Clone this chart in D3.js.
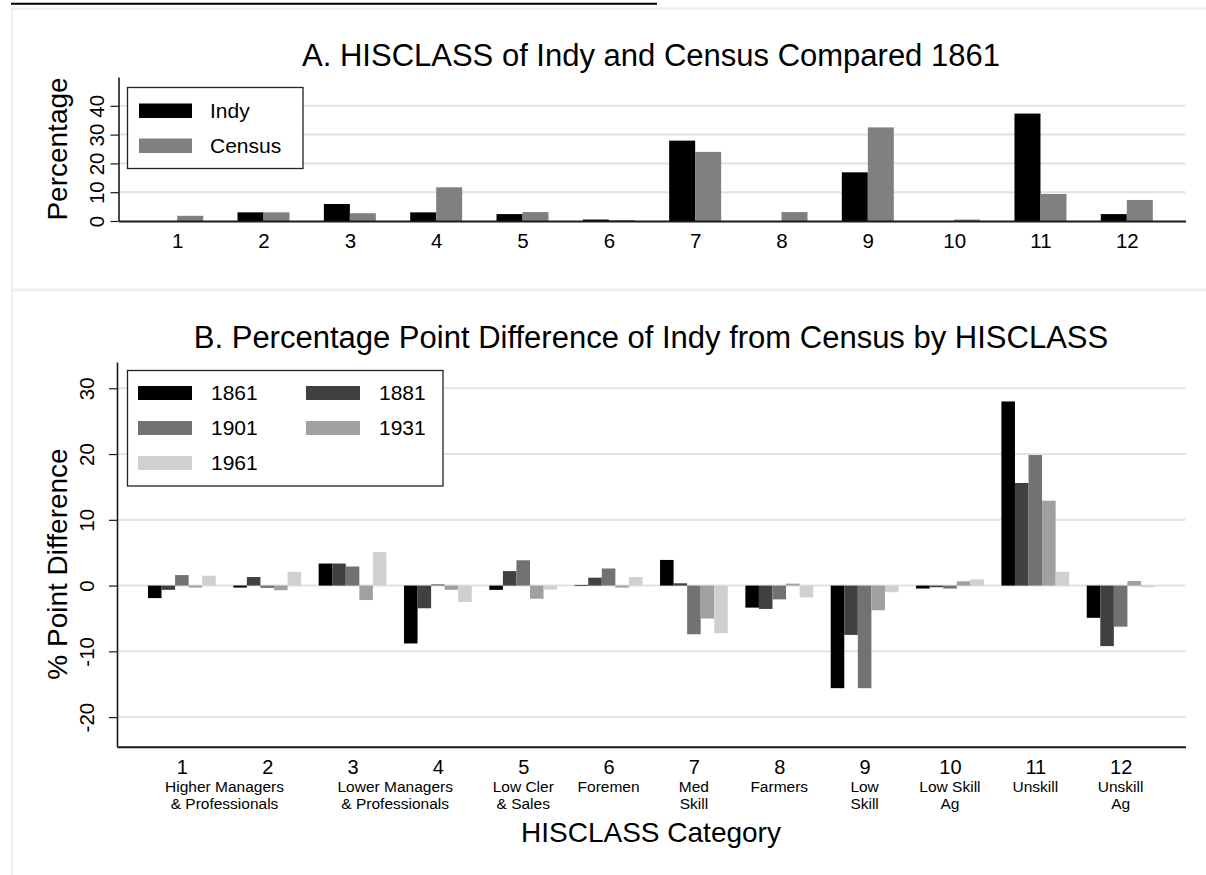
<!DOCTYPE html>
<html>
<head>
<meta charset="utf-8">
<script src="https://cdn.jsdelivr.net/npm/d3@7"></script>
<style>
  html, body { margin: 0; padding: 0; background: #ffffff; }
  svg { display: block; }
  text { font-family: "Liberation Sans", Arial, Helvetica, sans-serif; fill: #000; }
</style>
</head>
<body>
<svg id="chart" width="1206" height="875"></svg>
<script>
// ---------------- DATA ----------------
const categories = ["1","2","3","4","5","6","7","8","9","10","11","12"];

// Panel A: percentage by HISCLASS, 1861
const seriesA = ["Indy", "Census"];
const indyPct   = [0, 3.0, 5.9, 3.0, 2.4, 0.5, 27.9, 0, 16.9, 0, 37.3, 2.4];
const censusPct = [1.8, 3.0, 2.7, 11.7, 3.1, 0.3, 24.0, 3.1, 32.5, 0.5, 9.4, 7.3];
const ticksA = [0, 10, 20, 30, 40];

// Panel B: percentage point difference of Indy from Census
const years = ["1861", "1881", "1901", "1931", "1961"];
const diff1861 = [-1.9, -0.3, 3.35, -8.8, -0.65, 0.1, 3.9, -3.35, -15.6, -0.45, 28.0, -4.9];
const diff1881 = [-0.65, 1.3, 3.35, -3.45, 2.2, 1.2, 0.35, -3.55, -7.5, -0.25, 15.6, -9.2];
const diff1901 = [1.6, -0.35, 2.9, 0.2, 3.85, 2.6, -7.4, -2.1, -15.6, -0.45, 19.85, -6.25];
const diff1931 = [-0.3, -0.7, -2.2, -0.65, -2.0, -0.3, -5.0, 0.3, -3.75, 0.65, 12.9, 0.7];
const diff1961 = [1.5, 2.1, 5.1, -2.5, -0.6, 1.3, -7.25, -1.8, -1.0, 0.95, 2.1, -0.25];
const ticksB = [-20, -10, 0, 10, 20, 30];

// Descriptive category names (span = number of categories the name sits under)
const catNames = [
  ["Higher Managers", "& Professionals"], null,
  ["Lower Managers", "& Professionals"], null,
  ["Low Cler", "& Sales"], ["Foremen"], ["Med", "Skill"], ["Farmers"],
  ["Low", "Skill"], ["Low Skill", "Ag"], ["Unskill"], ["Unskill", "Ag"]
];
const catNameSpan = [2, 0, 2, 0, 1, 1, 1, 1, 1, 1, 1, 1];

const titleA = "A. HISCLASS of Indy and Census Compared 1861";
const titleB = "B. Percentage Point Difference of Indy from Census by HISCLASS";
const yTitleA = "Percentage";
const yTitleB = "% Point Difference";
const xTitleB = "HISCLASS Category";

// ---------------- STYLE ----------------
const colorsA = { Indy: "#000000", Census: "#808080" };
const colorsB = ["#000000", "#404040", "#727272", "#a0a0a0", "#d0d0d0"];
const gridColor = "#e2e2e2";
const axisColor = "#1a1a1a";
const frameColor = "#e9eff2";
const plainFmt = d => String(d); // ASCII hyphen for negatives, like the original

const svg = d3.select("#chart");

// Page frame / cut-off header remnants
svg.append("line").attr("x1", 11).attr("x2", 657).attr("y1", 3.8).attr("y2", 3.8)
  .attr("stroke", "#000").attr("stroke-width", 2);
svg.append("line").attr("x1", 11).attr("x2", 1206).attr("y1", 8.5).attr("y2", 8.5)
  .attr("stroke", frameColor).attr("stroke-width", 2);
svg.append("line").attr("x1", 12).attr("x2", 12).attr("y1", 8).attr("y2", 875)
  .attr("stroke", frameColor).attr("stroke-width", 2);
svg.append("line").attr("x1", 12).attr("x2", 1206).attr("y1", 290).attr("y2", 290)
  .attr("stroke", frameColor).attr("stroke-width", 3);

// ================= PANEL A =================
const A = { left: 118.5, right: 1185.5, top: 77, bottom: 221 };
const xA = d3.scalePoint().domain(categories).range([A.left, A.right]).padding(0.68);
const yA = d3.scaleLinear().domain([0, 50]).range([A.bottom, A.top]);
const xA1 = d3.scaleBand().domain(seriesA).range([-26, 26]).padding(0);

const gA = svg.append("g");
gA.append("g").selectAll("line").data(ticksA.filter(d => d !== 0)).join("line")
  .attr("x1", A.left).attr("x2", A.right)
  .attr("y1", d => yA(d)).attr("y2", d => yA(d))
  .attr("stroke", gridColor).attr("stroke-width", 2);

const dataA = categories.map((c, i) => ({ cat: c, Indy: indyPct[i], Census: censusPct[i] }));
gA.append("g").selectAll("g").data(dataA).join("g")
  .attr("transform", d => `translate(${xA(d.cat)},0)`)
  .selectAll("rect").data(d => seriesA.map(s => ({ s, v: d[s] }))).join("rect")
  .attr("x", d => xA1(d.s)).attr("width", xA1.bandwidth())
  .attr("y", d => yA(d.v)).attr("height", d => yA(0) - yA(d.v))
  .attr("fill", d => colorsA[d.s]);

const yAxisA = gA.append("g").attr("transform", `translate(${A.left},0)`)
  .call(d3.axisLeft(yA).tickValues(ticksA).tickFormat(plainFmt).tickSize(8).tickSizeOuter(0).tickPadding(0));
yAxisA.select(".domain").attr("stroke", axisColor).attr("stroke-width", 1.6);
yAxisA.selectAll(".tick line").attr("stroke", axisColor).attr("stroke-width", 1.2);
yAxisA.selectAll(".tick text")
  .attr("transform", "translate(-22,0) rotate(-90)")
  .attr("x", 0).attr("y", 0).attr("dy", "0.35em")
  .attr("text-anchor", "middle")
  .style("font-size", "20.5px").style("font-family", '"Liberation Sans", Arial, sans-serif').attr("fill", "#000");

const xAxisA = gA.append("g").attr("transform", `translate(0,${A.bottom})`)
  .call(d3.axisBottom(xA).tickSize(0).tickPadding(12));
xAxisA.select(".domain").attr("stroke", axisColor).attr("stroke-width", 2);
xAxisA.selectAll(".tick text").style("font-size", "20.5px")
  .style("font-family", '"Liberation Sans", Arial, sans-serif').attr("fill", "#000");

gA.append("text").attr("x", 651).attr("y", 66).attr("text-anchor", "middle")
  .style("font-size", "31px").text(titleA);
gA.append("text").attr("transform", `translate(67,${(A.top + A.bottom) / 2}) rotate(-90)`)
  .attr("text-anchor", "middle").style("font-size", "28px").text(yTitleA);

const legA = gA.append("g");
legA.append("rect").attr("x", 127.5).attr("y", 87.5).attr("width", 175.5).attr("height", 81)
  .attr("fill", "#fff").attr("stroke", "#222").attr("stroke-width", 1.3);
seriesA.forEach((s, i) => {
  legA.append("rect").attr("x", 139).attr("y", 103.5 + i * 35).attr("width", 53).attr("height", 14.5)
    .attr("fill", colorsA[s]);
  legA.append("text").attr("x", 210).attr("y", 111 + i * 35).attr("dy", "0.35em")
    .style("font-size", "21px").text(s);
});

// ================= PANEL B =================
const B = { left: 117, right: 1185.5, top: 362, bottom: 746.7 };
const xB = d3.scalePoint().domain(categories).range([B.left, B.right]).padding(0.76);
const yB = d3.scaleLinear().domain([-24.5, 34]).range([B.bottom, B.top]);
const xB1 = d3.scaleBand().domain(years).range([-33.9, 33.9]).padding(0);

const gB = svg.append("g");
gB.append("g").selectAll("line").data(ticksB).join("line")
  .attr("x1", B.left).attr("x2", B.right)
  .attr("y1", d => yB(d)).attr("y2", d => yB(d))
  .attr("stroke", gridColor).attr("stroke-width", 2);

const diffs = [diff1861, diff1881, diff1901, diff1931, diff1961];
const dataB = categories.map((c, i) => ({ cat: c, vals: years.map((y, j) => ({ year: y, j, v: diffs[j][i] })) }));
gB.append("g").selectAll("g").data(dataB).join("g")
  .attr("transform", d => `translate(${xB(d.cat)},0)`)
  .selectAll("rect").data(d => d.vals).join("rect")
  .attr("x", d => xB1(d.year)).attr("width", xB1.bandwidth())
  .attr("y", d => yB(Math.max(0, d.v)))
  .attr("height", d => Math.abs(yB(d.v) - yB(0)))
  .attr("fill", d => colorsB[d.j]);

const yAxisB = gB.append("g").attr("transform", `translate(${B.left},0)`)
  .call(d3.axisLeft(yB).tickValues(ticksB).tickFormat(plainFmt).tickSize(8).tickSizeOuter(0).tickPadding(0));
yAxisB.select(".domain").attr("stroke", axisColor).attr("stroke-width", 1.6);
yAxisB.selectAll(".tick line").attr("stroke", axisColor).attr("stroke-width", 1.2);
yAxisB.selectAll(".tick text")
  .attr("transform", "translate(-30,0) rotate(-90)")
  .attr("x", 0).attr("y", 0).attr("dy", "0.35em")
  .attr("text-anchor", "middle")
  .style("font-size", "20.5px").style("font-family", '"Liberation Sans", Arial, sans-serif').attr("fill", "#000");

const xAxisB = gB.append("g").attr("transform", `translate(0,${B.bottom})`)
  .call(d3.axisBottom(xB).tickSize(0).tickPadding(13));
xAxisB.select(".domain").attr("stroke", axisColor).attr("stroke-width", 2);
xAxisB.selectAll(".tick text").style("font-size", "20px")
  .style("font-family", '"Liberation Sans", Arial, sans-serif').attr("fill", "#000");

catNames.forEach((lines, i) => {
  if (!lines) return;
  const span = catNameSpan[i];
  const cx = span === 2 ? (xB(categories[i]) + xB(categories[i + 1])) / 2 : xB(categories[i]);
  const t = gB.append("text").attr("text-anchor", "middle").style("font-size", "15.5px");
  lines.forEach((ln, k) => {
    t.append("tspan").attr("x", cx).attr("y", 792 + k * 17).text(ln);
  });
});

gB.append("text").attr("x", 651).attr("y", 348).attr("text-anchor", "middle")
  .style("font-size", "31px").text(titleB);
gB.append("text").attr("transform", `translate(67,564) rotate(-90)`)
  .attr("text-anchor", "middle").style("font-size", "28px").text(yTitleB);
gB.append("text").attr("x", 651).attr("y", 842).attr("text-anchor", "middle")
  .style("font-size", "28px").text(xTitleB);

const legB = gB.append("g");
legB.append("rect").attr("x", 127.5).attr("y", 370.5).attr("width", 315.5).attr("height", 115.5)
  .attr("fill", "#fff").attr("stroke", "#222").attr("stroke-width", 1.3);
years.forEach((yr, j) => {
  const col = j % 2, row = Math.floor(j / 2);
  const sx = col === 0 ? 138 : 306;
  const tx = col === 0 ? 211 : 379;
  legB.append("rect").attr("x", sx).attr("y", 386 + row * 35).attr("width", 54).attr("height", 14)
    .attr("fill", colorsB[j]);
  legB.append("text").attr("x", tx).attr("y", 393 + row * 35).attr("dy", "0.35em")
    .style("font-size", "21px").text(yr);
});
</script>
</body>
</html>
